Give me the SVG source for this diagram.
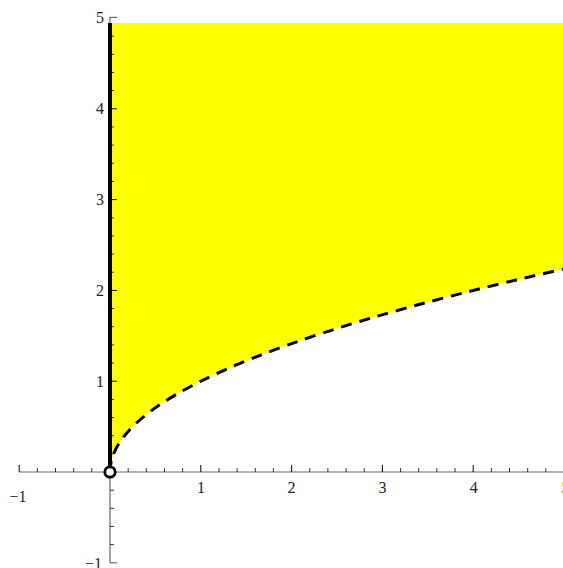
<svg xmlns="http://www.w3.org/2000/svg" width="563" height="568" viewBox="0 0 563 568">
<style>
.axis{stroke:#666;stroke-width:1.2;fill:none}
.maj{stroke:#000;stroke-width:1}
.min{stroke:#000;stroke-width:0.8}
.lbl{font-family:"Liberation Serif","Times New Roman",serif;font-size:16px;fill:#222}
</style>
<rect width="563" height="568" fill="#fff"/>
<g id="region">
<path d="M110,472 Q110,370.5 564,269 L564,23 L110,23 Z" fill="#ffff00"/>
</g>
<g id="axes">
<line class="axis" x1="19" y1="472" x2="563" y2="472"/>
<line class="axis" x1="110" y1="17" x2="110" y2="563"/>
<line class="axis" x1="110" y1="17.4" x2="117" y2="17.4"/>
<line class="axis" x1="110" y1="562.8" x2="117" y2="562.8"/>
<g id="xticks">
<line class="maj" x1="19.2" y1="472" x2="19.2" y2="465"/>
<line class="min" x1="37.4" y1="472" x2="37.4" y2="468"/>
<line class="min" x1="55.5" y1="472" x2="55.5" y2="468"/>
<line class="min" x1="73.7" y1="472" x2="73.7" y2="468"/>
<line class="min" x1="91.8" y1="472" x2="91.8" y2="468"/>
<line class="min" x1="128.2" y1="472" x2="128.2" y2="468"/>
<line class="min" x1="146.3" y1="472" x2="146.3" y2="468"/>
<line class="min" x1="164.5" y1="472" x2="164.5" y2="468"/>
<line class="min" x1="182.6" y1="472" x2="182.6" y2="468"/>
<line class="maj" x1="200.8" y1="472" x2="200.8" y2="465"/>
<line class="min" x1="219" y1="472" x2="219" y2="468"/>
<line class="min" x1="237.1" y1="472" x2="237.1" y2="468"/>
<line class="min" x1="255.3" y1="472" x2="255.3" y2="468"/>
<line class="min" x1="273.4" y1="472" x2="273.4" y2="468"/>
<line class="maj" x1="291.6" y1="472" x2="291.6" y2="465"/>
<line class="min" x1="309.8" y1="472" x2="309.8" y2="468"/>
<line class="min" x1="327.9" y1="472" x2="327.9" y2="468"/>
<line class="min" x1="346.1" y1="472" x2="346.1" y2="468"/>
<line class="min" x1="364.2" y1="472" x2="364.2" y2="468"/>
<line class="maj" x1="382.4" y1="472" x2="382.4" y2="465"/>
<line class="min" x1="400.6" y1="472" x2="400.6" y2="468"/>
<line class="min" x1="418.7" y1="472" x2="418.7" y2="468"/>
<line class="min" x1="436.9" y1="472" x2="436.9" y2="468"/>
<line class="min" x1="455" y1="472" x2="455" y2="468"/>
<line class="maj" x1="473.2" y1="472" x2="473.2" y2="465"/>
<line class="min" x1="491.4" y1="472" x2="491.4" y2="468"/>
<line class="min" x1="509.5" y1="472" x2="509.5" y2="468"/>
<line class="min" x1="527.7" y1="472" x2="527.7" y2="468"/>
<line class="min" x1="545.8" y1="472" x2="545.8" y2="468"/>
</g>
<g id="yticks">
<line class="maj" x1="110" y1="381.2" x2="117" y2="381.2"/>
<line class="maj" x1="110" y1="290.4" x2="117" y2="290.4"/>
<line class="maj" x1="110" y1="199.6" x2="117" y2="199.6"/>
<line class="maj" x1="110" y1="108.8" x2="117" y2="108.8"/>
<line class="min" x1="110" y1="453.8" x2="114" y2="453.8"/>
<line class="min" x1="110" y1="435.7" x2="114" y2="435.7"/>
<line class="min" x1="110" y1="417.5" x2="114" y2="417.5"/>
<line class="min" x1="110" y1="399.4" x2="114" y2="399.4"/>
<line class="min" x1="110" y1="363" x2="114" y2="363"/>
<line class="min" x1="110" y1="344.9" x2="114" y2="344.9"/>
<line class="min" x1="110" y1="326.7" x2="114" y2="326.7"/>
<line class="min" x1="110" y1="308.6" x2="114" y2="308.6"/>
<line class="min" x1="110" y1="272.2" x2="114" y2="272.2"/>
<line class="min" x1="110" y1="254.1" x2="114" y2="254.1"/>
<line class="min" x1="110" y1="235.9" x2="114" y2="235.9"/>
<line class="min" x1="110" y1="217.8" x2="114" y2="217.8"/>
<line class="min" x1="110" y1="181.4" x2="114" y2="181.4"/>
<line class="min" x1="110" y1="163.3" x2="114" y2="163.3"/>
<line class="min" x1="110" y1="145.1" x2="114" y2="145.1"/>
<line class="min" x1="110" y1="127" x2="114" y2="127"/>
<line class="min" x1="110" y1="90.6" x2="114" y2="90.6"/>
<line class="min" x1="110" y1="72.5" x2="114" y2="72.5"/>
<line class="min" x1="110" y1="54.3" x2="114" y2="54.3"/>
<line class="min" x1="110" y1="36.2" x2="114" y2="36.2"/>
<line class="min" x1="110" y1="490.2" x2="114" y2="490.2"/>
<line class="min" x1="110" y1="508.3" x2="114" y2="508.3"/>
<line class="min" x1="110" y1="526.5" x2="114" y2="526.5"/>
<line class="min" x1="110" y1="544.6" x2="114" y2="544.6"/>
</g>
<g id="labels" class="lbl">
<text x="18" y="502" text-anchor="middle">−1</text>
<text x="201" y="493" text-anchor="middle">1</text>
<text x="291.6" y="493" text-anchor="middle">2</text>
<text x="382.4" y="493" text-anchor="middle">3</text>
<text x="473.7" y="493" text-anchor="middle">4</text>
<text x="565.5" y="493" text-anchor="middle">5</text>
<text x="104" y="386.5" text-anchor="end">1</text>
<text x="104" y="295.5" text-anchor="end">2</text>
<text x="104" y="204.5" text-anchor="end">3</text>
<text x="104" y="113.5" text-anchor="end">4</text>
<text x="104" y="22.5" text-anchor="end">5</text>
<text x="102" y="568.5" text-anchor="end">−1</text>
</g>
</g>
<g id="connectors">
<path d="M110,472 Q110,370.5 564,269" fill="none" stroke="#000" stroke-width="3" stroke-dasharray="11,8"/>
<line x1="110" y1="23" x2="110" y2="468" stroke="#000" stroke-width="4"/>
</g>
<g id="origin">
<circle cx="110" cy="472" r="5.2" fill="#fff" stroke="#000" stroke-width="2.8"/>
</g>
</svg>
